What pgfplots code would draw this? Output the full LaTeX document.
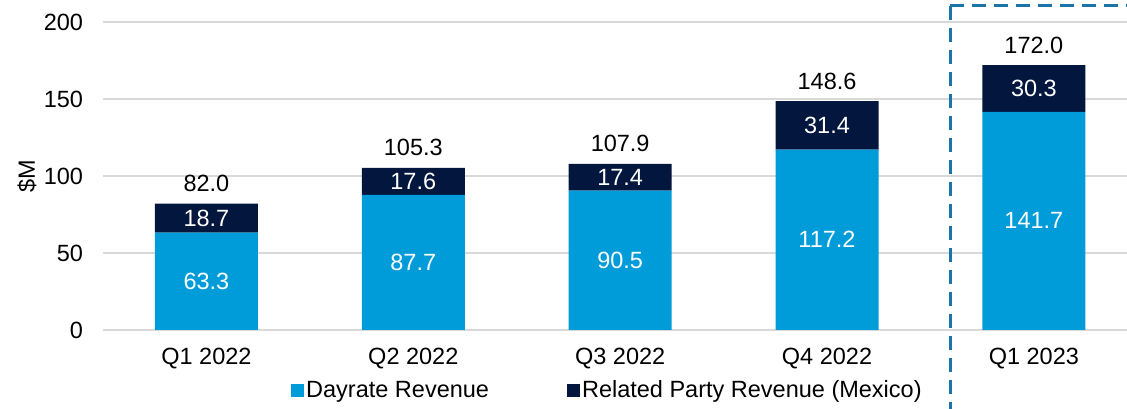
\documentclass[border=0pt]{standalone}
\usepackage{pgfplots}
\pgfplotsset{compat=1.18}
\usepackage{fontspec}
\setmainfont{Liberation Sans}
\definecolor{dayrate}{HTML}{009CDA}
\definecolor{related}{HTML}{03163E}
\definecolor{hilite}{HTML}{1C75A8}
\pgfplotsset{
    frame/.style={
        at={(103pt,79pt)}, anchor=south west,
        width=1024pt, height=308pt, scale only axis,
        xmin=-0.5, xmax=4.45, ymin=0, ymax=200,
    },
}
\begin{document}
\fontsize{23.5}{28}\selectfont
\begin{tikzpicture}
\begin{axis}[
    frame,
    ybar stacked, bar width=103pt,
    xtick={0,...,4},
    xticklabels={Q1 2022,Q2 2022,Q3 2022,Q4 2022,Q1 2023},
    ytick={0,50,...,200},
    ymajorgrids, grid style={line width=1.5pt, color=black!15},
    axis line style={draw=none},
    major tick length=0pt,
    /pgf/number format/assume math mode=true,
    yticklabel style={xshift=-12pt},
    xticklabel style={yshift=-10pt},
    ylabel={\$M},
    every axis y label/.style={at={(axis description cs:-0.0742,0.5)}, rotate=90, anchor=center},
    clip=false,
    legend columns=2,
    legend style={draw=none, fill=none, at={(axis description cs:0.1836,-0.198)},
        anchor=west, inner sep=0pt,
        /tikz/every even column/.append style={column sep=76pt}},
    legend image code/.code={\fill[#1] (0pt,-6.5pt) rectangle (13pt,6.5pt);},
    legend cell align=left,
    point meta=explicit symbolic,
]
% Dayrate revenue
\addplot[fill=dayrate, draw=none,
    nodes near coords,
    every node near coord/.style={white, anchor=center}]
coordinates {(0,63.3) [63.3] (1,87.7) [87.7] (2,90.5) [90.5] (3,117.2) [117.2] (4,141.7) [141.7]};
\addlegendentry{Dayrate Revenue}
% Related party revenue (Mexico)
\addplot[fill=related, draw=none,
    nodes near coords,
    every node near coord/.style={white, anchor=center}]
coordinates {(0,18.7) [18.7] (1,17.6) [17.6] (2,17.4) [17.4] (3,31.4) [31.4] (4,30.3) [30.3]};
\addlegendentry{Related Party Revenue (Mexico)}
\end{axis}
% totals above the bars
\begin{axis}[frame, hide axis, clip=false, point meta=explicit symbolic]
\addplot[draw=none, mark=none, nodes near coords,
    every node near coord/.style={black, anchor=center, yshift=20pt}]
coordinates {(0,82.0) [82.0] (1,105.3) [105.3] (2,107.9) [107.9] (3,148.6) [148.6] (4,172.0) [172.0]};
\end{axis}
\draw[hilite, line width=3pt, dash pattern=on 14pt off 8pt] (950pt,403pt) -- (950pt,0pt);
\draw[hilite, line width=3pt, dash pattern=on 14pt off 8pt] (950pt,403pt) -- (1127pt,403pt);
\pgfresetboundingbox
\path[use as bounding box] (0,0) rectangle (1127pt,409pt);
\end{tikzpicture}
\end{document}
